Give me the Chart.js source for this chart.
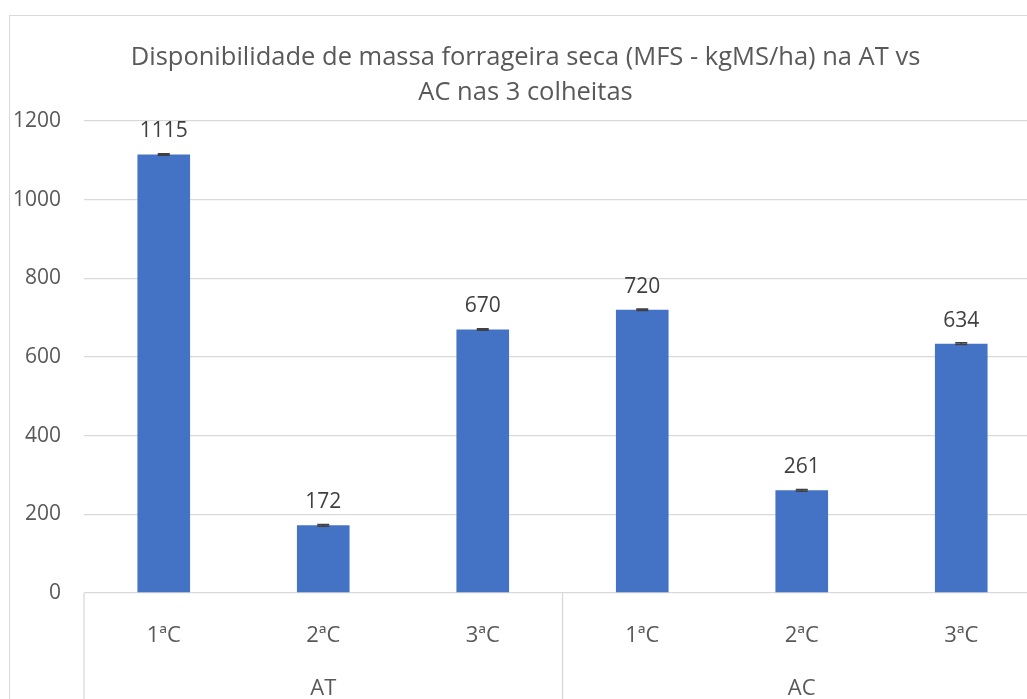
<!DOCTYPE html>
<html>
<head>
<meta charset="utf-8">
<script src="https://cdn.jsdelivr.net/npm/chart.js@4"></script>
<style>
  html, body { margin: 0; padding: 0; background: #fff; overflow: hidden; width: 1027px; height: 699px; }
  #wrap { position: absolute; left: 9px; top: 15px; width: 1040px; height: 720px; border: 1px solid #D9D9D9; background: #fff; }
  #c { position: absolute; left: 0; top: 0; }
</style>
</head>
<body>
<div id="wrap"><canvas id="c"></canvas></div>
<script>
const titleLines = ['Disponibilidade de massa forrageira seca (MFS - kgMS/ha) na AT vs', 'AC nas 3 colheitas'];
const groups = ['AT', 'AC'];
const harvests = ['1ªC', '2ªC', '3ªC'];
const values = [1115, 172, 670, 720, 261, 634];
const errors = [2, 2, 2, 2, 2, 2];
const yTicks = [0, 200, 400, 600, 800, 1000, 1200];

const labels = [];
groups.forEach(g => harvests.forEach((h, i) => labels.push([h, i === 1 ? g : ''])));

const FONT = '"Open Sans"';
const TXT = 21;
const W = 1034, H = 700;
const canvas = document.getElementById('c');
canvas.style.width = W + 'px';
canvas.style.height = H + 'px';
canvas.width = W; canvas.height = H;

const extras = {
  id: 'extras',
  afterDatasetsDraw(chart) {
    const ctx = chart.ctx;
    const meta = chart.getDatasetMeta(0);
    const y = chart.scales.y;
    ctx.save();
    ctx.strokeStyle = '#404040';
    ctx.lineWidth = 1.5;
    meta.data.forEach((bar, i) => {
      const v = values[i], e = errors[i];
      const yt = y.getPixelForValue(v + e), yb = y.getPixelForValue(v - e);
      ctx.beginPath();
      ctx.moveTo(bar.x, yt); ctx.lineTo(bar.x, yb);
      ctx.moveTo(bar.x - 6, yt); ctx.lineTo(bar.x + 6, yt);
      ctx.moveTo(bar.x - 6, yb); ctx.lineTo(bar.x + 6, yb);
      ctx.stroke();
    });
    ctx.fillStyle = '#404040';
    ctx.font = TXT + 'px ' + FONT;
    ctx.textAlign = 'center';
    ctx.textBaseline = 'middle';
    meta.data.forEach((bar, i) => {
      ctx.fillText(String(values[i]), bar.x, bar.y - 23);
    });
    ctx.restore();
  },
  afterDraw(chart) {
    const ctx = chart.ctx;
    const x = chart.scales.x;
    const area = chart.chartArea;
    const n = harvests.length;
    ctx.save();
    ctx.strokeStyle = '#D9D9D9';
    ctx.lineWidth = 1.3;
    for (let g = 0; g <= groups.length; g++) {
      const idx = g * n;
      let px;
      if (idx === 0) px = area.left;
      else if (idx >= labels.length) px = area.right;
      else px = (x.getPixelForValue(idx - 1) + x.getPixelForValue(idx)) / 2;
      ctx.beginPath();
      ctx.moveTo(px, area.bottom);
      ctx.lineTo(px, chart.height);
      ctx.stroke();
    }
    ctx.restore();
  }
};

new Chart(canvas, {
  type: 'bar',
  data: {
    labels: labels,
    datasets: [{
      data: values,
      backgroundColor: '#4472C4',
      borderWidth: 0,
      barPercentage: 0.33,
      categoryPercentage: 1.0
    }]
  },
  options: {
    responsive: false,
    animation: false,
    devicePixelRatio: 1,
    layout: { padding: { left: 0, right: 3, top: 0, bottom: 0 } },
    plugins: {
      legend: { display: false },
      tooltip: { enabled: false },
      title: {
        display: true,
        text: titleLines,
        color: '#595959',
        font: { family: FONT, size: 25.5, weight: 'normal', lineHeight: '35px' },
        padding: { top: 24.5, bottom: 10.5 }
      }
    },
    scales: {
      x: {
        grid: { display: false },
        border: { display: false },
        ticks: {
          color: '#595959',
          font: { family: FONT, size: 22, lineHeight: '53px' },
          padding: 8,
          maxRotation: 0,
          autoSkip: false
        },
        afterFit(scale) { scale.height = 123; }
      },
      y: {
        min: 0, max: 1200,
        afterBuildTicks(scale) { scale.ticks = yTicks.map(v => ({ value: v })); },
        grid: { color: '#D9D9D9', lineWidth: 1.3, drawTicks: false },
        border: { display: false },
        ticks: {
          color: '#595959',
          font: { family: FONT, size: TXT },
          padding: 23,
          callback: (v) => String(v)
        },
        afterFit(scale) { scale.width = 74; }
      }
    }
  },
  plugins: [extras]
});
</script>
</body>
</html>
